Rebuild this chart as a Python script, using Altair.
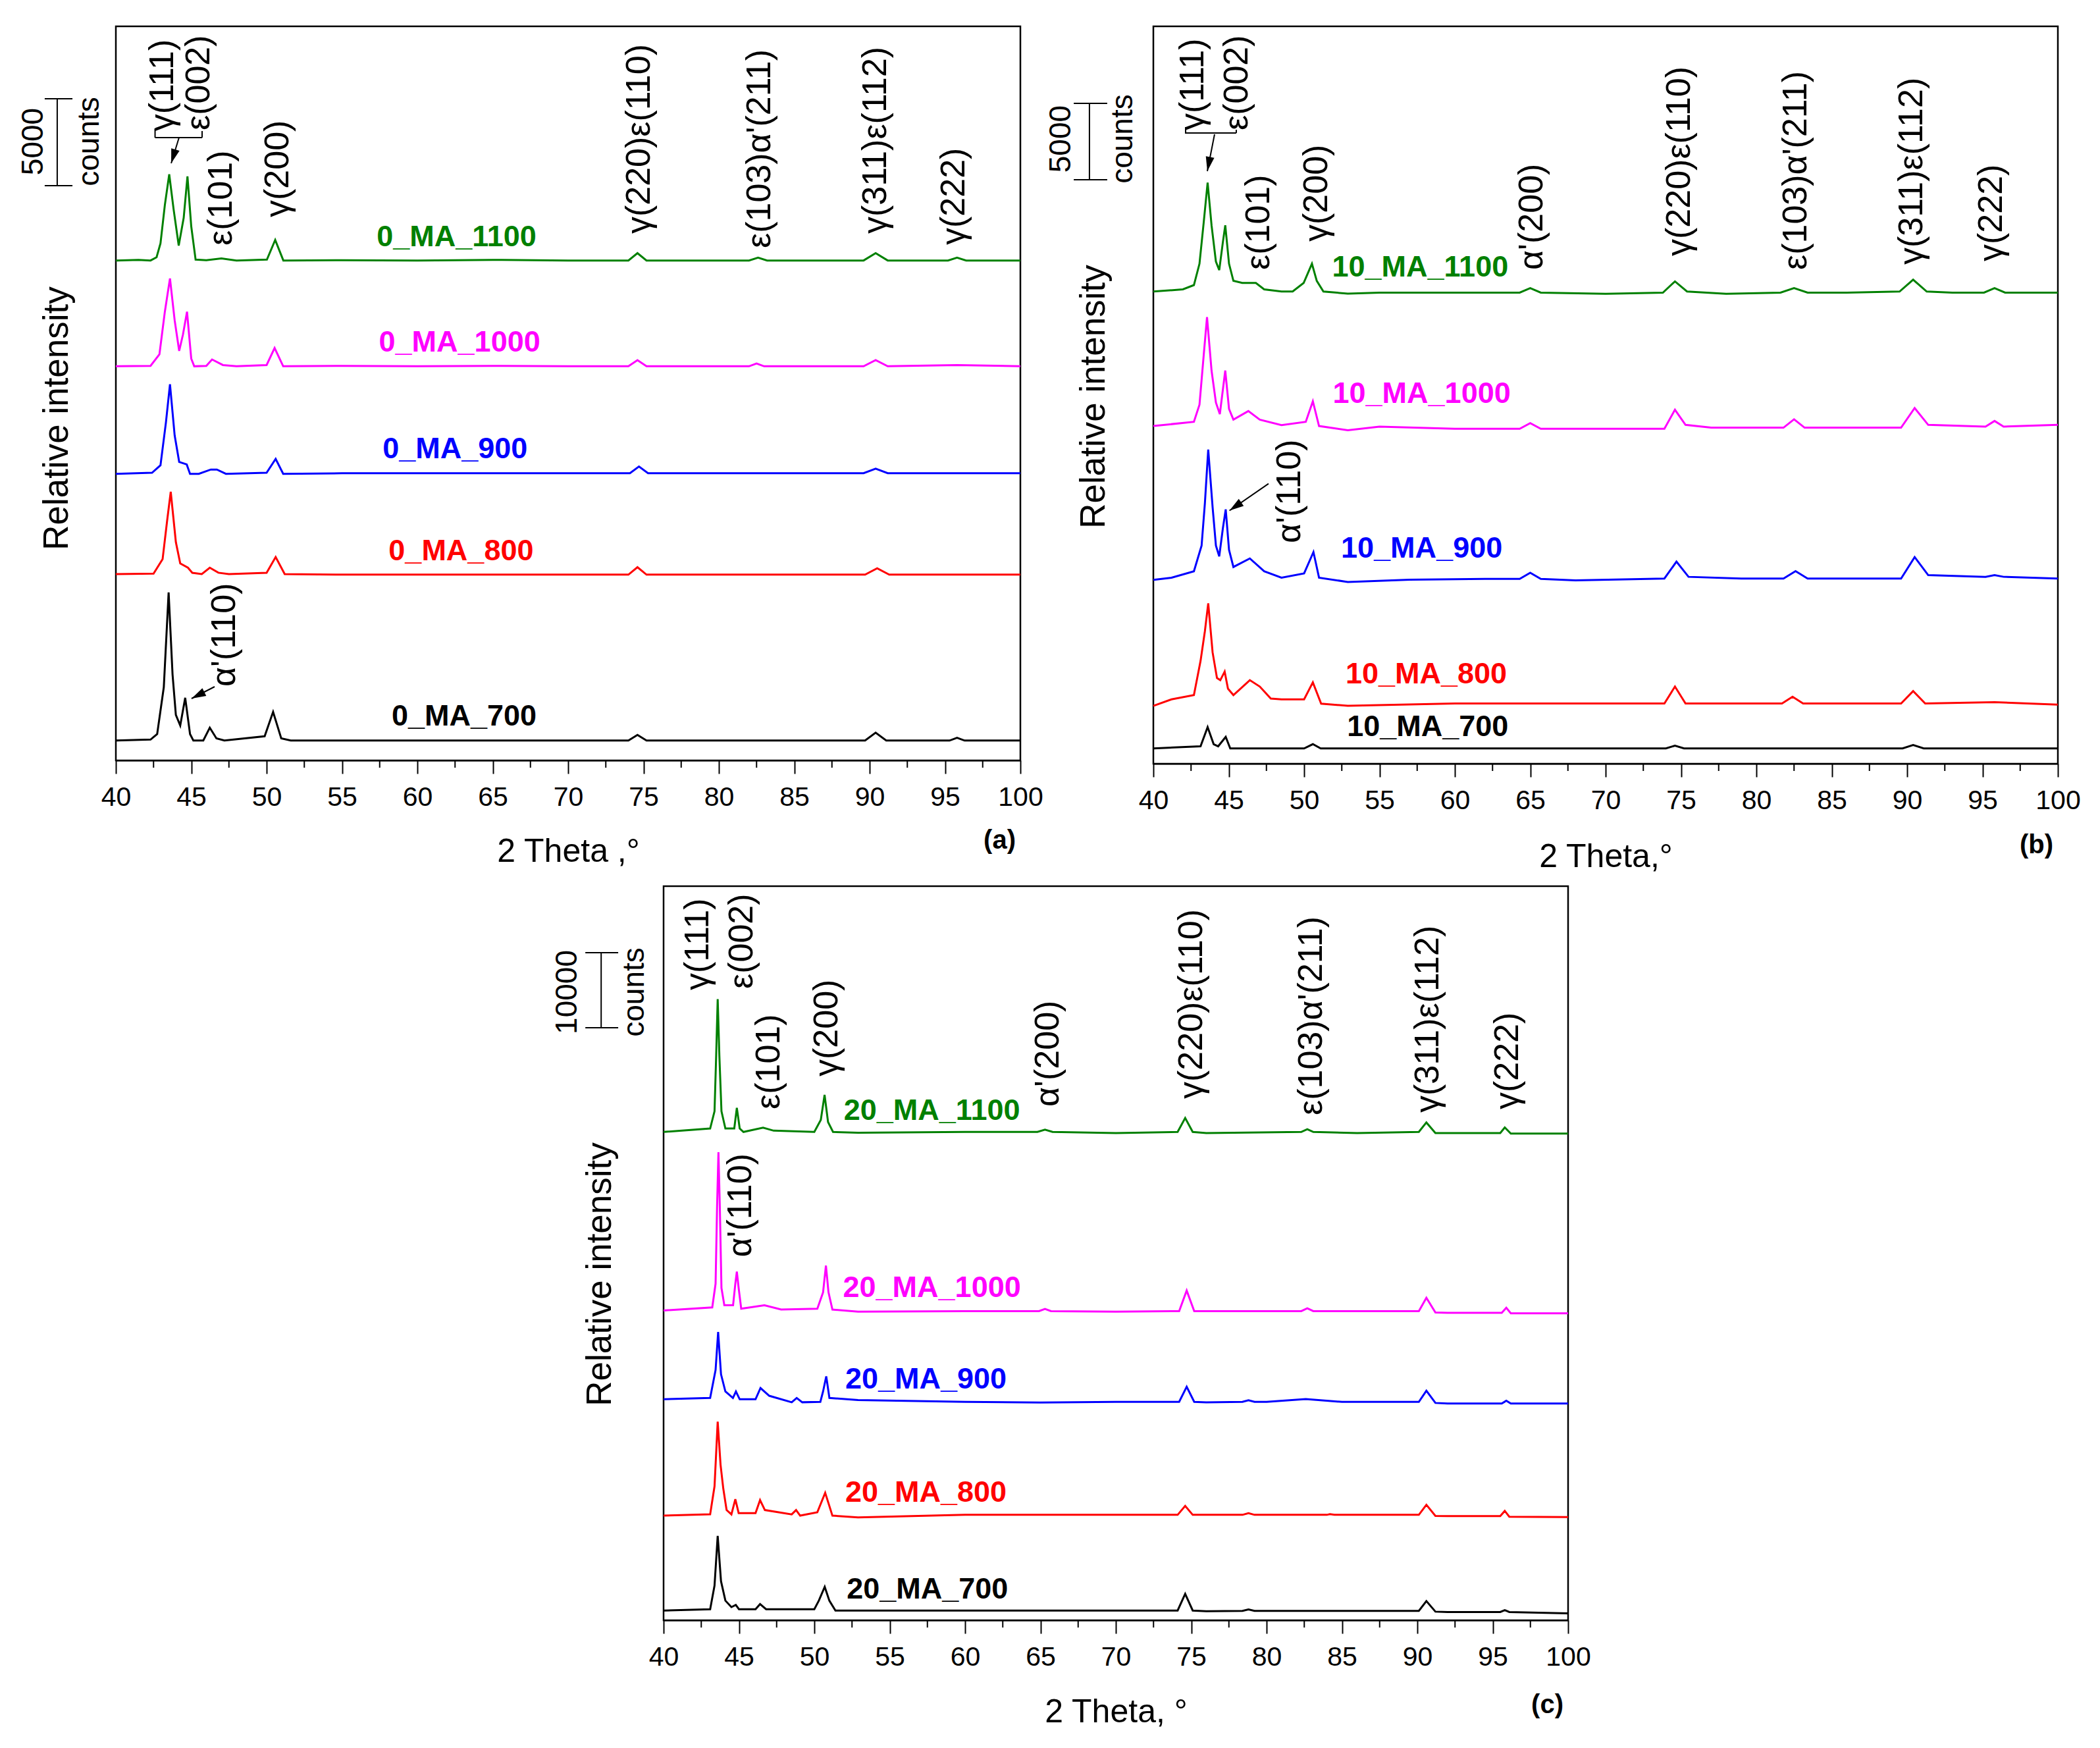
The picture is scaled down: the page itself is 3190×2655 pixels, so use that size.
import altair as alt
import pandas as pd

FONT = "Liberation Sans"
COLORS = ["#008000", "#FF00FF", "#0000FF", "#FF0000", "#000000"]
X_TICKS = [40, 45, 50, 55, 60, 65, 70, 75, 80, 85, 90, 95, 100]
X_MINOR = [42.5, 47.5, 52.5, 57.5, 62.5, 67.5, 72.5, 77.5, 82.5, 87.5, 92.5, 97.5]
PW = 1374
HEAD = "M0,0L-0.3,-1L0.3,-1Z"

# ---------------- (a) 0_MA ----------------
a_names = ["0_MA_1100", "0_MA_1000", "0_MA_900", "0_MA_800", "0_MA_700"]
a1100_x = [40, 41.5, 42.3, 42.7, 42.96, 43.25, 43.54, 43.83, 44.17, 44.5, 44.75, 45.0, 45.29, 46.0, 47.0, 48.0,
           50.02, 50.57, 51.11, 55, 60, 65, 70, 74.0, 74.6, 75.2, 82.0, 82.6, 83.2, 89.6, 90.4, 91.2, 95.2, 95.8,
           96.4, 100]
a1100_y = [28764, 28800, 28764, 28950, 29746, 31956, 33723, 31710, 29623, 31219, 33600, 30728, 28813, 28780, 28887,
           28764, 28813, 29943, 28764, 28780, 28764, 28800, 28764, 28764, 29185, 28764, 28764, 28926, 28764, 28764,
           29185, 28764, 28764, 28926, 28764, 28764]
a1000_x = [40, 42.3, 42.89, 43.25, 43.59, 43.9, 44.2, 44.45, 44.72, 45.0, 45.2, 46.0, 46.38, 47.1, 48.0, 50.0,
           50.53, 51.1, 55, 60, 65, 70, 74.0, 74.6, 75.2, 82.0, 82.5, 83.0, 89.6, 90.4, 91.2, 95.8, 100]
a1000_y = [22677, 22700, 23363, 25818, 27733, 25327, 23560, 24500, 25818, 23118, 22676, 22700, 23069, 22750, 22677,
           22750, 23732, 22677, 22700, 22677, 22700, 22677, 22677, 23033, 22677, 22677, 22839, 22677, 22677, 23033,
           22677, 22750, 22677]
a900_x = [40, 42.4, 42.96, 43.32, 43.59, 43.9, 44.2, 44.7, 44.92, 45.5, 46.3, 46.7, 47.3, 50.0, 50.6, 51.1, 55,
          60, 65, 70, 74.1, 74.7, 75.3, 89.6, 90.4, 91.2, 100]
a900_y = [16489, 16550, 16980, 19435, 21644, 18699, 17176, 17029, 16489, 16489, 16735, 16735, 16489, 16550, 17348,
          16489, 16524, 16524, 16524, 16524, 16524, 16913, 16524, 16524, 16783, 16524, 16524]
a800_x = [40, 42.5, 43.1, 43.4, 43.64, 43.98, 44.27, 44.78, 45.07, 45.7, 46.23, 46.8, 47.5, 50.0, 50.6, 51.2, 55,
          60, 65, 70, 74.0, 74.6, 75.2, 89.7, 90.5, 91.3, 100]
a800_y = [10720, 10750, 11579, 13789, 15459, 12561, 11334, 11088, 10793, 10720, 11088, 10800, 10720, 10793, 11702,
          10720, 10690, 10690, 10690, 10690, 10690, 11117, 10690, 10690, 11052, 10690, 10690]
a700_x = [40, 42.3, 42.74, 43.18, 43.5, 43.76, 43.98, 44.27, 44.6, 44.92, 45.14, 45.8, 46.23, 46.67, 47.2, 49.87,
          50.43, 50.97, 51.6, 55, 60, 65, 70, 74.0, 74.6, 75.2, 89.7, 90.4, 91.1, 95.3, 95.8, 96.3, 100]
a700_y = [1144, 1200, 1515, 4214, 9664, 4950, 2620, 2007, 3603, 1515, 1144, 1144, 1882, 1267, 1144, 1390, 2790,
          1267, 1144, 1144, 1144, 1144, 1144, 1144, 1468, 1144, 1144, 1598, 1144, 1144, 1306, 1144, 1144]
a_lab_x = [62.6, 62.8, 62.5, 62.9, 63.1]
a_lab_y = [30115, 24054, 17917, 12046, 2538]
a_pk_text = ["γ(111)", "ε(002)", "ε(101)", "γ(200)", "γ(220)ε(110)", "ε(103)α'(211)", "γ(311)ε(112)", "γ(222)",
             "α'(110)"]
a_pk_x = [43.1, 45.5, 47.0, 50.75, 74.7, 82.7, 90.4, 95.6, 47.2]
a_pk_y = [36200, 36250, 29620, 31250, 30300, 29470, 30300, 29660, 4240]

# ---------------- (b) 10_MA ----------------
b_names = ["10_MA_1100", "10_MA_1000", "10_MA_900", "10_MA_800", "10_MA_700"]
b1100_x = [40, 41.96, 42.69, 43.06, 43.35, 43.6, 43.86, 44.15, 44.37, 44.61, 44.77, 45.02, 45.31, 45.9, 46.8,
           47.35, 48.5, 49.24, 49.97, 50.52, 50.84, 51.28, 52.9, 55, 60, 64.3, 65.0, 65.7, 70, 73.8, 74.6, 75.4,
           78, 81.6, 82.5, 83.4, 86, 89.5, 90.4, 91.3, 93, 95.1, 95.8, 96.5, 100]
b1100_y = [30913, 31053, 31333, 32731, 35527, 38043, 35247, 32871, 32311, 34129, 35247, 32731, 31612, 31472, 31472,
           31053, 30913, 30913, 31472, 32731, 31612, 30913, 30773, 30839, 30839, 30839, 31134, 30839, 30765, 30839,
           31576, 30913, 30765, 30839, 31134, 30839, 30839, 30913, 31686, 30913, 30839, 30839, 31134, 30839, 30839]
b1000_x = [40, 42.69, 43.06, 43.35, 43.56, 43.86, 44.15, 44.41, 44.77, 45.02, 45.31, 46.3, 47.06, 48.5, 50.11,
           50.58, 50.99, 52.9, 55, 60, 64.3, 65, 65.7, 70, 73.9, 74.6, 75.3, 77, 81.8, 82.5, 83.2, 86, 89.6, 90.5,
           91.4, 95.2, 95.8, 96.4, 100]
b1000_y = [22106, 22385, 23504, 26859, 29235, 25740, 23643, 22888, 25740, 23224, 22525, 23084, 22525, 22162, 22385,
           23727, 22106, 21827, 22071, 21924, 21924, 22292, 21924, 21924, 21924, 23176, 22182, 21998, 21998, 22550,
           21998, 21998, 21998, 23287, 22182, 22071, 22439, 22071, 22182]
b900_x = [40, 41.2, 42.69, 43.2, 43.42, 43.64, 43.93, 44.15, 44.37, 44.61, 44.8, 45.02, 45.31, 46.4, 47.35, 48.5,
          50.0, 50.62, 50.99, 52.9, 57, 62, 64.3, 65, 65.7, 68, 73.9, 74.7, 75.5, 79, 81.8, 82.6, 83.4, 85, 89.6,
          90.5, 91.4, 95.2, 95.8, 96.4, 100]
b900_y = [12040, 12180, 12599, 14277, 17073, 20568, 16793, 14277, 13578, 15395, 16653, 13997, 12879, 13438, 12599,
          12180, 12459, 13858, 12180, 11900, 12050, 12100, 12100, 12500, 12100, 12000, 12124, 13229, 12235, 12124,
          12124, 12603, 12124, 12124, 12124, 13524, 12345, 12235, 12345, 12235, 12124]
b800_x = [40, 41.2, 42.69, 43.13, 43.42, 43.64, 43.93, 44.22, 44.44, 44.73, 44.95, 45.31, 46.4, 47.06, 47.79, 48.5,
          50.0, 50.58, 51.13, 52.9, 60, 70, 73.9, 74.6, 75.3, 81.7, 82.4, 83.1, 89.6, 90.4, 91.2, 95.8, 100]
b800_y = [3791, 4211, 4491, 6728, 8685, 10503, 7287, 5609, 5469, 6028, 4910, 4491, 5469, 5050, 4267, 4211, 4211,
          5330, 3931, 3791, 3946, 3946, 3946, 5051, 3946, 3946, 4388, 3946, 3946, 4757, 3946, 4030, 3870]
b700_x = [40, 43.13, 43.6, 44.0, 44.3, 44.8, 45.1, 50.0, 50.58, 51.1, 60, 70, 74.0, 74.6, 75.2, 89.7, 90.4, 91.1,
          100]
b700_y = [1000, 1140, 2398, 1280, 1140, 1755, 1000, 1000, 1280, 1000, 1000, 1000, 1000, 1184, 1000, 1000, 1220,
          1000, 1000]
b_lab_x = [57.7, 57.8, 57.8, 58.1, 58.2]
b_lab_y = [32497, 24222, 14094, 5862, 2414]
b_pk_text = ["γ(111)", "ε(002)", "ε(101)", "γ(200)", "α'(200)", "γ(220)ε(110)", "ε(103)α'(211)", "γ(311)ε(112)",
             "γ(222)", "α'(110)"]
b_pk_x = [42.62, 45.55, 47.0, 50.83, 65.1, 74.9, 82.6, 90.3, 95.6, 49.05]
b_pk_y = [41462, 41462, 32325, 34178, 32325, 33230, 32325, 32670, 32885, 14440]

# ---------------- (c) 20_MA ----------------
c_names = ["20_MA_1100", "20_MA_1000", "20_MA_900", "20_MA_800", "20_MA_700"]
c1100_x = [40, 43.09, 43.38, 43.49, 43.59, 43.7, 43.84, 44.1, 44.69, 44.86, 45.05, 45.3, 46.6, 47.3, 50.0, 50.43,
           50.68, 50.91, 51.24, 52.9, 60, 64.8, 65.3, 65.8, 70, 74.1, 74.6, 75.1, 76, 82.3, 82.7, 83.1, 86, 90.1,
           90.6, 91.2, 92, 95.5, 95.8, 96.2, 100]
c1100_y = [65049, 65509, 67806, 75272, 82737, 75272, 67806, 65509, 65509, 68265, 65509, 65049, 65624, 65221, 65049,
           66657, 69988, 66370, 65049, 64934, 65049, 65049, 65346, 65049, 64900, 65049, 66903, 65049, 64900, 65049,
           65420, 65049, 64900, 65049, 66310, 64900, 64900, 64900, 65643, 64827, 64827]
c1000_x = [40, 43.23, 43.45, 43.55, 43.64, 43.73, 43.84, 44.03, 44.61, 44.76, 44.86, 44.98, 45.15, 46.69, 47.8,
           50.2, 50.58, 50.77, 50.94, 51.2, 52.9, 60, 64.9, 65.3, 65.7, 70, 74.2, 74.7, 75.2, 76, 82.3, 82.7, 83.1,
           90.1, 90.6, 91.2, 92, 95.6, 95.9, 96.2, 100]
c1000_y = [41273, 41675, 44834, 55171, 62350, 55171, 44260, 41963, 41963, 44834, 46442, 44260, 41503, 41963, 41388,
           41503, 43686, 47246, 43686, 41388, 41101, 41177, 41177, 41474, 41177, 41100, 41177, 43922, 41177, 41177,
           41177, 41548, 41177, 41177, 42958, 41000, 40950, 40950, 41622, 40900, 40881]
c900_x = [40, 43.09, 43.45, 43.62, 43.81, 44.1, 44.6, 44.8, 45.05, 46.1, 46.43, 47.01, 48.5, 48.83, 49.2, 50.4,
          50.58, 50.79, 51.0, 52.9, 60, 65, 70, 74.2, 74.7, 75.2, 76, 78.4, 78.8, 79.2, 80, 82.6, 85, 90.1, 90.6,
          91.2, 92, 95.6, 95.9, 96.2, 100]
c900_y = [29442, 29614, 33347, 38401, 32773, 30476, 29614, 30476, 29442, 29442, 30935, 29901, 29040, 29614, 29040,
          29100, 30476, 32486, 29614, 29327, 29096, 29000, 29096, 29096, 31098, 29096, 29020, 29096, 29318, 29096,
          29096, 29467, 29096, 29096, 30579, 28950, 28870, 28870, 29244, 28870, 28872]
c800_x = [40, 43.09, 43.38, 43.59, 43.78, 43.96, 44.18, 44.5, 44.76, 44.98, 46.1, 46.4, 46.72, 48.5, 48.79, 49.06,
          50.2, 50.72, 51.2, 52.9, 60, 70, 74.1, 74.6, 75.1, 78.4, 78.8, 79.2, 84.0, 84.2, 84.5, 90.1, 90.6, 91.2,
          92, 95.5, 95.8, 96.1, 100]
c800_y = [13937, 14109, 17842, 26456, 20714, 17555, 14683, 14109, 16119, 14281, 14281, 16004, 14683, 14109, 14683,
          13937, 14396, 16981, 13937, 13707, 14045, 14045, 14045, 15231, 14045, 14045, 14267, 14045, 14045, 14130,
          14045, 14045, 15379, 13900, 13880, 13880, 14564, 13800, 13748]
c700_x = [40, 43.09, 43.38, 43.59, 43.81, 44.1, 44.5, 44.79, 45.0, 46.1, 46.4, 46.8, 50.0, 50.3, 50.69, 51.0, 51.4,
          60, 70, 74.1, 74.6, 75.1, 76, 78.4, 78.8, 79.2, 82.5, 90.1, 90.6, 91.2, 92, 95.5, 95.8, 96.1, 100]
c700_y = [1297, 1469, 4628, 11232, 5202, 2618, 1756, 2043, 1469, 1469, 2158, 1469, 1469, 2618, 4455, 2600, 1300,
          1297, 1297, 1297, 3521, 1297, 1200, 1250, 1450, 1250, 1250, 1250, 2557, 1150, 1100, 1100, 1350, 1100, 925]
c_lab_x = [57.8, 57.8, 57.4, 57.4, 57.5]
c_lab_y = [67880, 44290, 32055, 17015, 4120]
c_pk_text = ["γ(111)", "ε(002)", "ε(101)", "γ(200)", "α'(200)", "γ(220)ε(110)", "ε(103)α'(211)", "γ(311)ε(112)",
             "γ(222)", "α'(110)"]
c_pk_x = [42.27, 45.19, 47.0, 50.85, 65.5, 75.0, 82.96, 90.7, 95.98, 45.1]
c_pk_y = [83929, 84104, 68055, 72440, 68406, 69458, 67266, 67617, 68055, 48363]

# scale bars: bar x, cap x0, cap x1, y0, y1, value text, value x, "counts" x, text y
a_bar = [36.11, 35.28, 37.12, 33069, 38069, "5000", 34.54, 38.25, 35607]
b_bar = [35.76, 34.72, 36.94, 38230, 43230, "5000", 33.9, 37.99, 40900]
c_bar = [35.86, 34.81, 36.99, 78930, 88930, "10000", 33.63, 38.08, 83666]

# bracket / arrow segments (x, x2, y, y2) and arrow heads (x, y, angle)
a_seg = [(42.6, 42.6, 35834, 36365), (42.6, 45.72, 35834, 35834), (45.72, 45.72, 35834, 36213),
         (44.19, 43.67, 35834, 34357), (46.55, 45.02, 4243, 3561)]
a_head = [(43.67, 34357, 17), (45.02, 3561, 63)]
b_seg = [(42.14, 42.14, 41247, 41678), (42.14, 45.5, 41290, 41290), (45.5, 45.5, 41290, 41500),
         (44.06, 43.58, 41204, 38790), (47.64, 45.05, 18331, 16570)]
b_head = [(43.58, 38790, 11), (45.05, 16570, 55)]


def panel(names, xs, ys, lab_x, lab_y, pk_text, pk_x, pk_y, bar, segs, heads,
          ymax, h, xtitle, ytx, yty, xty, tag, tag_dy):
    xsc = alt.Scale(domain=[40, 100], nice=False, zero=False)
    ysc = alt.Scale(domain=[0, ymax], nice=False, zero=False)
    xaxis = alt.Axis(
        values=X_TICKS, format="d", title=xtitle, grid=False, labelFlush=False, labelOverlap=False,
        tickSize=20, tickWidth=2, tickColor="black", domainColor="black", domainWidth=2,
        labelPadding=16, labelFontSize=41, labelColor="black", titleFontSize=50,
        titleFontWeight="normal", titleColor="black", titleY=xty, titleBaseline="middle")
    yaxis = alt.Axis(
        title="Relative intensity", labels=False, ticks=False, domain=False, grid=False,
        titleFontSize=53, titleFontWeight="normal", titleColor="black", titleX=ytx, titleY=yty,
        titleAngle=270, titleAlign="center", titleBaseline="middle")
    colour = alt.Color("s:N", scale=alt.Scale(domain=names, range=COLORS), legend=None)
    X = alt.X("tt:Q", scale=xsc, axis=xaxis)
    Y = alt.Y("i:Q", scale=ysc, axis=yaxis)

    rows = []
    for n, x, y in zip(names, xs, ys):
        rows += [{"s": n, "tt": a, "i": b} for a, b in zip(x, y)]
    lines = alt.Chart(pd.DataFrame(rows)).mark_line(strokeWidth=3).encode(
        x=X, y=Y, color=colour, detail="s:N")

    minor = alt.Chart(pd.DataFrame({"tt": X_MINOR})).mark_rule(color="black", strokeWidth=2).encode(
        x=X, y=alt.value(h), y2=alt.value(h + 11))

    bx, c0, c1, y0, y1, btxt, tx, cx, ty = bar
    seg_rows = [(bx, bx, y0, y1), (c0, c1, y0, y0), (c0, c1, y1, y1)] + list(segs)
    seg_df = pd.DataFrame(seg_rows, columns=["tt", "tt2", "i", "i2"])
    rules = alt.Chart(seg_df).mark_rule(color="black", strokeWidth=2).encode(
        x=X, x2="tt2:Q", y=Y, y2="i2:Q")

    bar_txt = alt.Chart(pd.DataFrame({"tt": [tx, cx], "i": [ty, ty], "t": [btxt, "counts"]})).mark_text(
        angle=270, align="center", baseline="middle", fontSize=46, color="black").encode(x=X, y=Y, text="t:N")

    labs = alt.Chart(pd.DataFrame({"s": names, "tt": lab_x, "i": lab_y})).mark_text(
        fontWeight="bold", fontSize=45, align="center", baseline="middle").encode(
        x=X, y=Y, text="s:N", color=colour)

    peaks = alt.Chart(pd.DataFrame({"t": pk_text, "tt": pk_x, "i": pk_y})).mark_text(
        angle=270, align="left", baseline="middle", fontSize=52, color="black").encode(x=X, y=Y, text="t:N")

    tag_c = alt.Chart(pd.DataFrame({"t": [tag]})).mark_text(
        align="right", baseline="middle", fontWeight="bold", fontSize=40, color="black").encode(
        x=alt.value(PW - 7), y=alt.value(h + tag_dy), text="t:N")

    layers = [lines, minor, rules, bar_txt, labs, peaks, tag_c]
    if heads:
        head_df = pd.DataFrame(heads, columns=["tt", "i", "a"])
        layers.append(alt.Chart(head_df).mark_point(
            shape=HEAD, filled=True, size=1900, color="black", opacity=1, strokeWidth=0).encode(
            x=X, y=Y, angle=alt.Angle("a:Q", scale=None)))
    return alt.layer(*layers).properties(width=PW, height=h)


pa = panel(a_names, [a1100_x, a1000_x, a900_x, a800_x, a700_x], [a1100_y, a1000_y, a900_y, a800_y, a700_y],
           a_lab_x, a_lab_y, a_pk_text, a_pk_x, a_pk_y, a_bar, a_seg, a_head,
           42236, 1115, "2 Theta ,°", -90, 595, 138, "(a)", 122)
pb = panel(b_names, [b1100_x, b1000_x, b900_x, b800_x, b700_x], [b1100_y, b1000_y, b900_y, b800_y, b700_y],
           b_lab_x, b_lab_y, b_pk_text, b_pk_x, b_pk_y, b_bar, b_seg, b_head,
           48272, 1120, "2 Theta,°", -91, 562, 141, "(b)", 124)
pc = panel(c_names, [c1100_x, c1000_x, c900_x, c800_x, c700_x], [c1100_y, c1000_y, c900_y, c800_y, c700_y],
           c_lab_x, c_lab_y, c_pk_text, c_pk_x, c_pk_y, c_bar, [], [],
           97786, 1115, "2 Theta, °", -97, 589, 139, "(c)", 129)

spacer = alt.Chart(pd.DataFrame({"v": [0]})).mark_point(opacity=0).encode(
    x=alt.value(10), y=alt.value(10)).properties(width=630, height=20, view=alt.ViewBackground(strokeOpacity=0))

top = alt.hconcat(pa, pb, spacing=202, bounds="flush")
bottom = alt.hconcat(spacer, pc, spacing=202, bounds="flush")

chart = (
    alt.vconcat(top, bottom, spacing=16)
    .properties(padding={"left": 18, "top": 30, "right": 10, "bottom": 10})
    .configure(font=FONT)
    .configure_view(stroke="black", strokeWidth=2.5)
)

chart.save("out.html", embed_options={"renderer": "svg", "actions": False})
